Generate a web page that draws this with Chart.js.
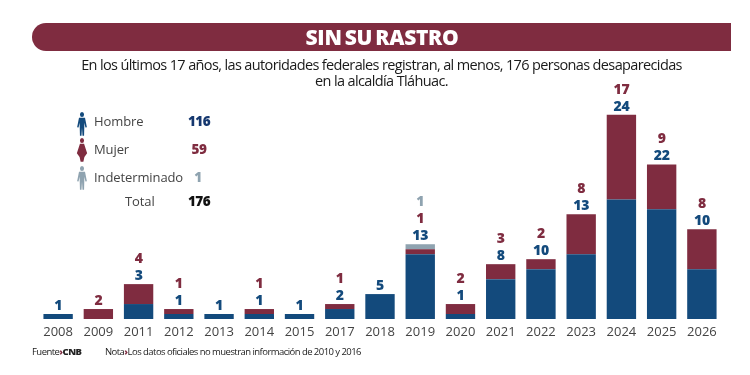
<!DOCTYPE html>
<html>

<head>
    <meta charset="utf-8">
    <title>Sin su rastro</title>
    <script src="https://cdn.jsdelivr.net/npm/chart.js@4.4.1/dist/chart.umd.min.js"></script>
    <style>
        html, body { margin: 0; padding: 0; background: #fff; }
        #wrap { position: relative; width: 750px; height: 375px; overflow: hidden; font-family: "Open Sans", sans-serif; }
        #myChart { position: absolute; left: 0; top: 0; }
        #pill { position: absolute; left: 32px; top: 23px; width: 699px; height: 28px; border-radius: 14px 0 0 14px; background: #7f2c40; }
        .txt { position: absolute; white-space: nowrap; }
        #title { left: 0; width: 764px; top: 23px; line-height: 28px; text-align: center; color: #fff; font-size: 21px; font-weight: 800; letter-spacing: -0.3px; word-spacing: -2px; }
        .sub { left: 0; width: 763px; text-align: center; color: #1a1a1a; font-size: 14.5px; letter-spacing: -0.63px; line-height: 17px; }
        .lg { color: #444; font-size: 13px; line-height: 16px; letter-spacing: -0.1px; }
        .lgv { font-size: 13.5px; line-height: 16px; font-weight: 800; text-align: center; width: 40px; letter-spacing: -0.5px; }
        .foot { top: 345px; font-size: 9.5px; line-height: 14px; color: #222; letter-spacing: -0.55px; }
        .foot b { font-weight: 800; }
        .foot i { font-style: normal; font-weight: 800; color: #7f2c40; }
    </style>
</head>

<body>
    <div id="wrap">
        <canvas id="myChart" width="750" height="375"></canvas>
        <div id="pill"></div>
        <div class="txt" id="title">SIN SU RASTRO</div>
        <div class="txt sub" style="top:56px">En los últimos 17 años, las autoridades federales registran, al menos, 176 personas desaparecidas</div>
        <div class="txt sub" style="top:72px">en la alcaldía Tláhuac.</div>
        <div id="legend"></div>
        <div class="txt foot" style="left:32px">Fuente<i>›</i><b>CNB</b></div>
        <div class="txt foot" style="left:105px">Nota<i>›</i>Los datos oficiales no muestran información de 2010 y 2016</div>
    </div>

    <script>
        const years = ['2008', '2009', '2011', '2012', '2013', '2014', '2015', '2017', '2018', '2019', '2020', '2021', '2022', '2023', '2024', '2025', '2026'];
        const hombre = [1, 0, 3, 1, 1, 1, 1, 2, 5, 13, 1, 8, 10, 13, 24, 22, 10];
        const mujer = [0, 2, 4, 1, 0, 1, 0, 1, 0, 1, 2, 3, 2, 8, 17, 9, 8];
        const indeterminado = [0, 0, 0, 0, 0, 0, 0, 0, 0, 1, 0, 0, 0, 0, 0, 0, 0];

        const legendNames = ['Hombre', 'Mujer', 'Indeterminado', 'Total'];
        const legendValues = [116, 59, 1, 176];

        const BLUE = '#134a7c';
        const RED = '#7f2c40';
        const GREY = '#8fa3b0';

        // legend block, icons are plain svg
        const legendColors = ['#16386f', RED, GREY, '#111'];
        const iconColors = [BLUE, RED, GREY];
        const legendTops = [113, 141, 169, 193];
        const iconTops = [112, 138, 166];
        const legendLeft = [94, 94, 94, 125];
        const legendValueLeft = [179, 179, 178, 179];
        const manPath = 'M7 0a2.4 2.4 0 1 1 0 4.8A2.4 2.4 0 0 1 7 0zM3.5 5.5h7l2.2 9-1.7.4-1.2-4.6-.4 12.5H7.6L7 15l-.6 7.8H4.6l-.4-12.5L3 14.9l-1.7-.4z';
        const womanPath = 'M7 0a2.4 2.4 0 1 1 0 4.8A2.4 2.4 0 0 1 7 0zM4.6 5.5h4.8l3.6 9-3.2 3.6-1.2 4.7H5.4l-1.2-4.7L1 14.5z';
        let html = '';
        legendNames.forEach(function (name, i) {
            if (i < 3) {
                html += '<svg style="position:absolute;left:76px;top:' + iconTops[i] + 'px" width="12" height="24" viewBox="0 0 14 23" preserveAspectRatio="none"><path fill="' + iconColors[i] + '" d="' + (i == 1 ? womanPath : manPath) + '"/></svg>';
            }
            html += '<div class="txt lg" style="left:' + legendLeft[i] + 'px;top:' + legendTops[i] + 'px">' + name + '</div>';
            html += '<div class="txt lgv" style="left:' + legendValueLeft[i] + 'px;top:' + legendTops[i] + 'px;color:' + legendColors[i] + '">' + legendValues[i] + '</div>';
        });
        document.getElementById('legend').innerHTML = html;

        // numbers stacked over each bar: hombre, then mujer, then indeterminado
        const stackedNumbers = {
            id: 'stackedNumbers',
            afterDatasetsDraw(chart) {
                const ctx = chart.ctx;
                const x = chart.scales.x;
                const y = chart.scales.y;
                ctx.save();
                ctx.font = '800 14px "Open Sans"';
                ctx.letterSpacing = '-0.3px';
                ctx.textAlign = 'center';
                ctx.textBaseline = 'middle';
                years.forEach(function (yr, i) {
                    const top = y.getPixelForValue(hombre[i] + mujer[i] + indeterminado[i]);
                    let cy = top - 8;
                    [[hombre, BLUE], [mujer, RED], [indeterminado, GREY]].forEach(function (s) {
                        if (s[0][i] > 0) {
                            ctx.fillStyle = s[1];
                            ctx.fillText(s[0][i], x.getPixelForTick(i), cy);
                            cy -= 17;
                        }
                    });
                });
                ctx.restore();
            }
        };

        const config = {
            type: 'bar',
            data: {
                labels: years,
                datasets: [
                    { label: 'Hombre', data: hombre, backgroundColor: BLUE },
                    { label: 'Mujer', data: mujer, backgroundColor: RED },
                    { label: 'Indeterminado', data: indeterminado, backgroundColor: GREY }
                ]
            },
            options: {
                responsive: false,
                animation: false,
                layout: { padding: { left: 38, right: 28, top: 0, bottom: 0 } },
                datasets: { bar: { categoryPercentage: 0.73, barPercentage: 1 } },
                plugins: { legend: { display: false }, tooltip: { enabled: false } },
                scales: {
                    x: {
                        stacked: true,
                        grid: { display: false, drawTicks: false },
                        border: { display: false },
                        ticks: { color: '#444', font: { family: 'Open Sans', size: 13 }, maxRotation: 0, autoSkip: false, padding: 5 },
                        afterFit(scale) { scale.height = 56; }
                    },
                    y: { stacked: true, display: false, min: 0, max: 64 }
                }
            },
            plugins: [stackedNumbers]
        };

        const myChart = new Chart(document.getElementById('myChart'), config);
    </script>
</body>

</html>
